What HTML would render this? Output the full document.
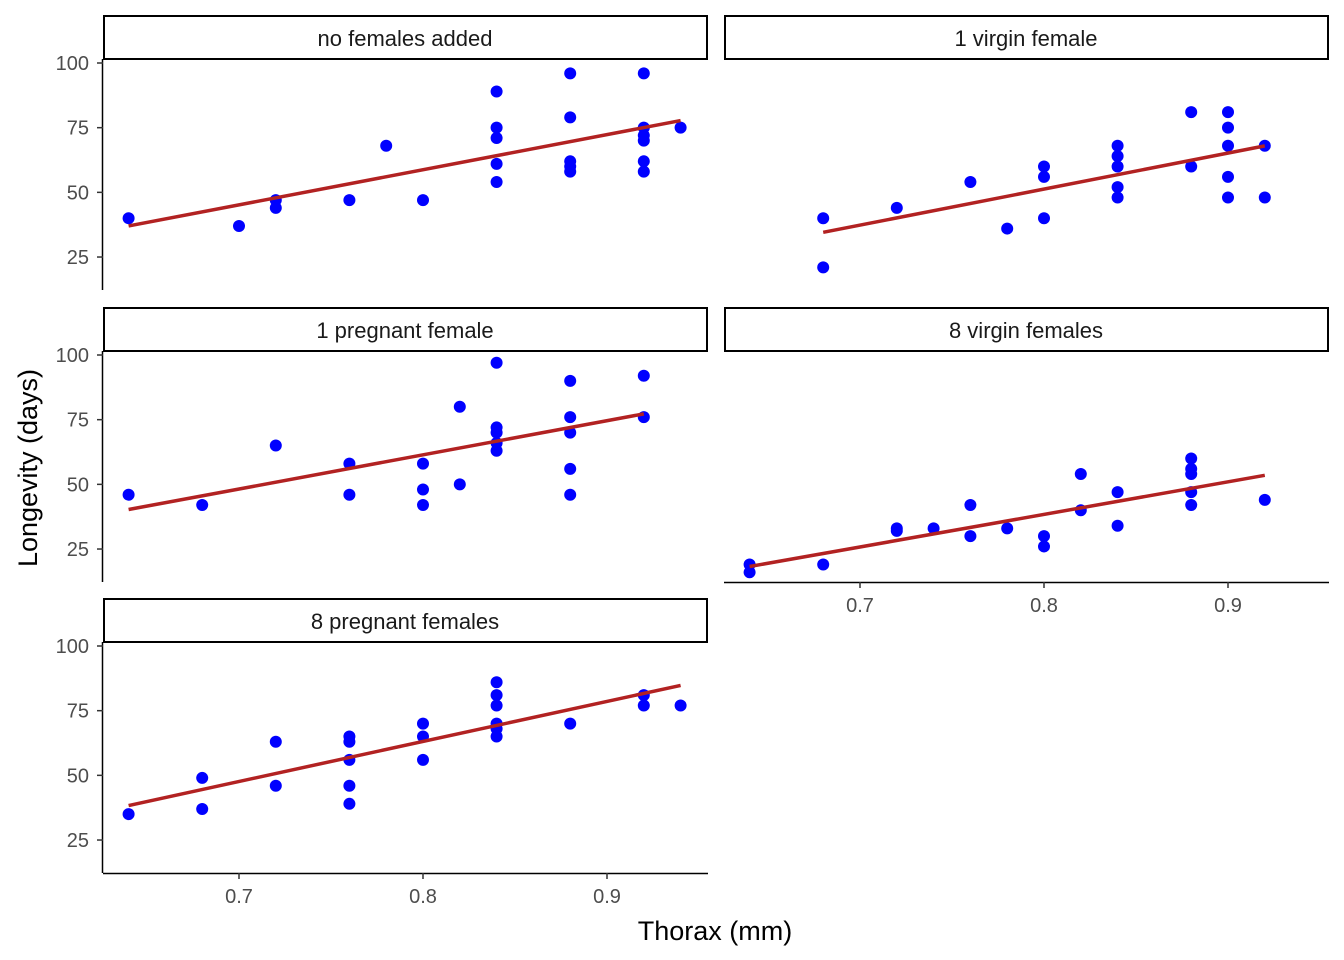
<!DOCTYPE html>
<html><head><meta charset="utf-8"><style>
html,body{margin:0;padding:0;background:#fff}
svg{display:block;font-family:"Liberation Sans",Arial,sans-serif}
</style></head><body>
<svg id="c" width="1344" height="960" xmlns="http://www.w3.org/2000/svg">
<text x="715" y="940" text-anchor="middle" font-size="27" fill="#000">Thorax (mm)</text>
<text transform="translate(37,468) rotate(-90)" text-anchor="middle" font-size="27" fill="#000">Longevity (days)</text>
</svg>
<script>
const panelTitles = ["no females added","1 virgin female","1 pregnant female","8 virgin females","8 pregnant females"];
const xP1 = [0.64,0.70,0.72,0.72,0.76,0.78,0.80,0.84,0.84,0.84,0.84,0.84,0.88,0.88,0.88,0.88,0.88,0.92,0.92,0.92,0.92,0.92,0.92,0.94];
const yP1 = [40,37,44,47,47,68,47,54,61,71,75,89,58,60,62,79,96,58,62,70,72,75,96,75];
const xP2 = [0.68,0.68,0.72,0.76,0.78,0.80,0.80,0.80,0.84,0.84,0.84,0.84,0.84,0.88,0.88,0.90,0.90,0.90,0.90,0.90,0.92,0.92];
const yP2 = [40,21,44,54,36,60,56,40,68,64,60,52,48,81,60,81,75,68,56,48,68,48];
const xP3 = [0.64,0.68,0.72,0.76,0.76,0.80,0.80,0.80,0.82,0.82,0.84,0.84,0.84,0.84,0.84,0.88,0.88,0.88,0.88,0.88,0.92,0.92];
const yP3 = [46,42,65,58,46,58,48,42,80,50,97,72,70,66,63,90,76,70,56,46,92,76];
const xP4 = [0.64,0.64,0.68,0.72,0.72,0.74,0.76,0.76,0.78,0.80,0.80,0.82,0.82,0.84,0.84,0.88,0.88,0.88,0.88,0.88,0.92];
const yP4 = [19,16,19,33,32,33,42,30,33,30,26,54,40,47,34,60,56,54,47,42,44];
const xP5 = [0.64,0.68,0.68,0.72,0.72,0.76,0.76,0.76,0.76,0.76,0.80,0.80,0.80,0.84,0.84,0.84,0.84,0.84,0.84,0.88,0.92,0.92,0.94];
const yP5 = [35,49,37,63,46,65,63,56,46,39,70,65,56,86,81,77,70,68,65,70,81,77,77];
const xTicks = [0.7,0.8,0.9];
const yTicks = [25,50,75,100];

const xs=[xP1,xP2,xP3,xP4,xP5], ys=[yP1,yP2,yP3,yP4,yP5];
const svg=document.getElementById('c');
const NS="http://www.w3.org/2000/svg";
function mk(t,a,p){const e=document.createElementNS(NS,t);for(const k in a)e.setAttribute(k,a[k]);(p||svg).appendChild(e);return e;}
const cols=[103,724], rows=[15,307,598];
function xs_(v,c){return cols[c]+136+(v-0.7)*1840;}
function ys_(v,r){return rows[r]+48+(100-v)*2.587;}
for(let i=0;i<5;i++){
  const c=i%2, r=Math.floor(i/2), x0=cols[c], top=rows[r];
  const g=mk('g',{});
  
  
  const strip=mk('rect',{x:x0+1,y:top+1,width:603,height:43,fill:'#fff',stroke:'#000','stroke-width':2},g);
  
  
  const st=mk('text',{x:x0+302,y:top+31,'text-anchor':'middle','font-size':22,fill:'#1a1a1a'},g);
  st.textContent=panelTitles[i];
  
  
  const pb=top+275;
  if(c===0){
    const ya=mk('line',{x1:x0-0.5,y1:top+44,x2:x0-0.5,y2:pb,stroke:'#000','stroke-width':1.5},g);
    
    
    yTicks.forEach(t=>{const y=ys_(t,r);
      mk('line',{x1:x0-6,y1:y,x2:x0,y2:y,stroke:'#333','stroke-width':1.5},g);
      const tt=mk('text',{x:x0-14,y:y+7,'text-anchor':'end','font-size':20,fill:'#4d4d4d'},g);
      tt.textContent=t;
      
      });
  }
  if(i===3||i===4){
    const xa=mk('line',{x1:x0,y1:pb+0.5,x2:x0+605,y2:pb+0.5,stroke:'#000','stroke-width':1.5},g);
    
    
    xTicks.forEach(t=>{const x=xs_(t,c);
      mk('line',{x1:x,y1:pb,x2:x,y2:pb+6,stroke:'#333','stroke-width':1.5},g);
      const tt=mk('text',{x:x,y:pb+30,'text-anchor':'middle','font-size':20,fill:'#4d4d4d'},g);
      tt.textContent=t;
      
      });
  }
  const X=xs[i],Y=ys[i];
  X.forEach((v,j)=>{
    const p=mk('circle',{cx:xs_(v,c),cy:ys_(Y[j],r),r:6,fill:'#0000ff'},g);
    
    
  });
  const n=X.length,mx=X.reduce((a,b)=>a+b)/n,my=Y.reduce((a,b)=>a+b)/n;
  let sxy=0,sxx=0;X.forEach((v,j)=>{sxy+=(v-mx)*(Y[j]-my);sxx+=(v-mx)**2;});
  const b=sxy/sxx,a=my-b*mx,lo=Math.min(...X),hi=Math.max(...X);
  const ln=mk('line',{x1:xs_(lo,c),y1:ys_(a+b*lo,r),x2:xs_(hi,c),y2:ys_(a+b*hi,r),stroke:'#b22222','stroke-width':3.5},g);
  
  
}
</script>
</body></html>
